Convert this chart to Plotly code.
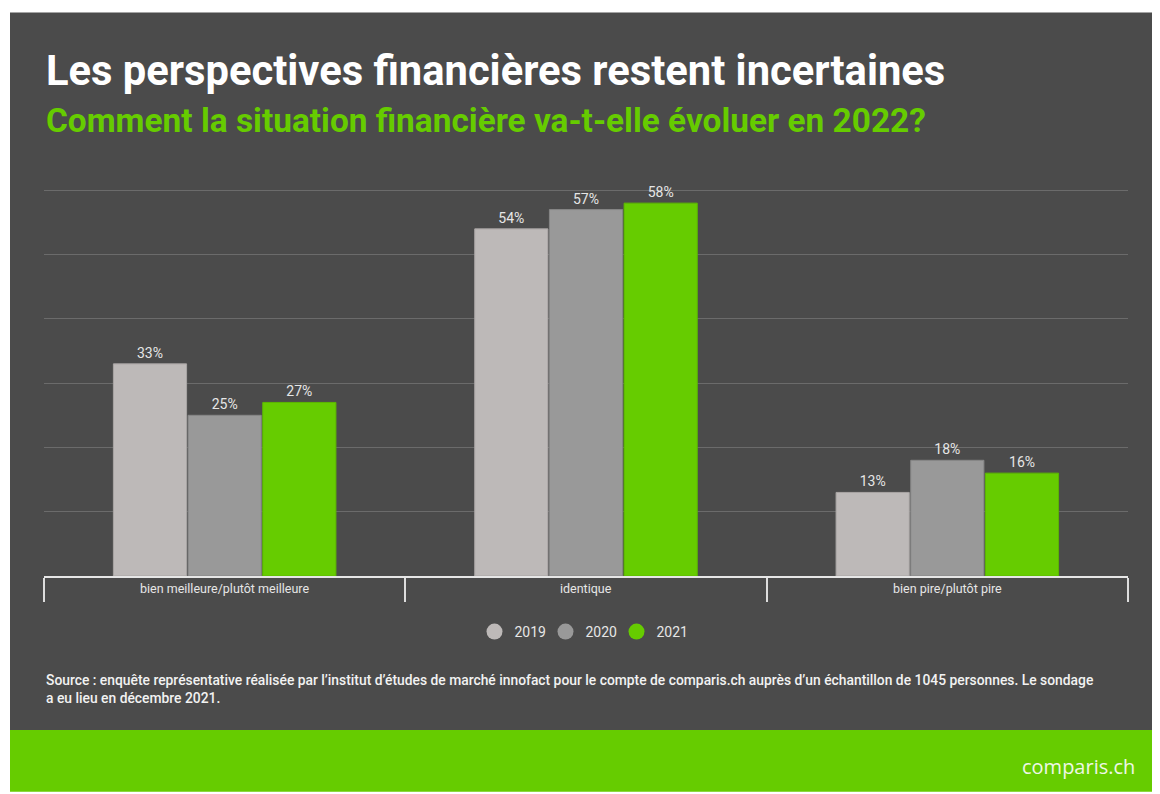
import plotly.graph_objects as go

# data
categories = ["bien meilleure/plutôt meilleure", "identique", "bien pire/plutôt pire"]
years = ["2019", "2020", "2021"]
values_2019 = [33, 54, 13]
values_2020 = [25, 57, 18]
values_2021 = [27, 58, 16]
y_ticks = [0, 10, 20, 30, 40, 50, 60]

series = [values_2019, values_2020, values_2021]
colors = ["#bdb9b8", "#999999", "#66cc00"]
edge_colors = ["#a9a5a4", "#868686", "#5cb800"]

W, H = 1160, 794
OFF = 8  # page body margin
y_max = 60.2
# plot area in screen pixels
left, right, top, bottom = 44, 1128, 190 - 0.2 * 386 / 60, 576
left, right, top, bottom = left - OFF, right - OFF, top - OFF, bottom - OFF


def px(x):
    return (x - OFF - left) / (right - left)


def py(y):
    return (bottom - (y - OFF)) / (bottom - top)


fig = go.Figure()

for name, vals, col, edge in zip(years, series, colors, edge_colors):
    fig.add_trace(
        go.Bar(
            x=categories,
            y=vals,
            name=name,
            marker=dict(color=col, line=dict(color=edge, width=1)),
            texttemplate="%{y}%",
            textposition="outside",
            textfont=dict(color="#e6e6e6", size=14, family="Roboto"),
            cliponaxis=False,
            showlegend=False,
            hoverinfo="skip",
        )
    )
    # round legend markers
    fig.add_trace(
        go.Scatter(
            x=[None],
            y=[None],
            mode="markers",
            name=name,
            marker=dict(symbol="circle", size=17, color=col),
        )
    )

# category labels between the boundary ticks
for cat in categories:
    fig.add_annotation(
        x=cat, y=py(589), xref="x", yref="paper", yanchor="middle",
        text=cat, showarrow=False,
        font=dict(size=12.5, color="#e6e6e6", family="Roboto"),
    )

# background panel and green footer band
fig.add_shape(type="rect", xref="paper", yref="paper", layer="below",
              x0=px(10), x1=px(1158), y0=py(730), y1=py(12),
              fillcolor="#4b4b4b", line_width=0)
fig.add_shape(type="rect", xref="paper", yref="paper", layer="below",
              x0=px(10), x1=px(1158), y0=py(792), y1=py(730),
              fillcolor="#66cc00", line_width=0)

fig.add_annotation(
    x=px(44), y=py(70), xref="paper", yref="paper", xanchor="left", yanchor="middle",
    text="<b>Les perspectives financières restent incertaines</b>", showarrow=False,
    font=dict(size=41.7, color="white", family="Roboto"),
)
fig.add_annotation(
    x=px(44), y=py(120), xref="paper", yref="paper", xanchor="left", yanchor="middle",
    text="<b>Comment la situation financière va-t-elle évoluer en 2022?</b>", showarrow=False,
    font=dict(size=33.4, color="#66cc00", family="Roboto"),
)
fig.add_annotation(
    x=px(44), y=py(689), xref="paper", yref="paper", xanchor="left", yanchor="middle",
    align="left",
    text="Source : enquête représentative réalisée par l’institut d’études de marché innofact pour le compte de comparis.ch auprès d’un échantillon de 1045 personnes. Le sondage<br>a eu lieu en décembre 2021.",
    showarrow=False,
    font=dict(size=13.85, color="#f2f2f2", family="Roboto", weight=500),
)
fig.add_annotation(
    x=px(1137), y=py(767), xref="paper", yref="paper", xanchor="right", yanchor="middle",
    text="comparis.ch", showarrow=False,
    font=dict(size=20, color="#eef7e6", family="Open Sans"),
)

fig.update_layout(
    width=W,
    height=H,
    margin=dict(l=left, r=W - right, t=top, b=H - bottom),
    paper_bgcolor="white",
    plot_bgcolor="rgba(0,0,0,0)",
    barmode="group",
    bargap=0.38,
    bargroupgap=0.02,
    font=dict(family="Roboto", color="#e6e6e6"),
    showlegend=True,
    legend=dict(
        orientation="h",
        x=px(581), xanchor="center",
        y=py(632), yanchor="middle",
        font=dict(size=14, color="#e6e6e6"),
        bgcolor="rgba(0,0,0,0)",
        itemsizing="trace",
        entrywidth=26,
        entrywidthmode="pixels",
    ),
    xaxis=dict(
        showline=True,
        linecolor="#e6e6e6",
        linewidth=2,
        tickson="boundaries",
        ticks="outside",
        ticklen=24,
        tickwidth=1.5,
        tickcolor="#dddddd",
        showticklabels=False,
        showgrid=False,
        fixedrange=True,
    ),
    yaxis=dict(
        range=[0, y_max],
        tickvals=y_ticks,
        showticklabels=False,
        showgrid=True,
        gridcolor="#6b6b6b",
        gridwidth=1,
        zeroline=False,
        fixedrange=True,
    ),
)

fig.write_html("out.html")
